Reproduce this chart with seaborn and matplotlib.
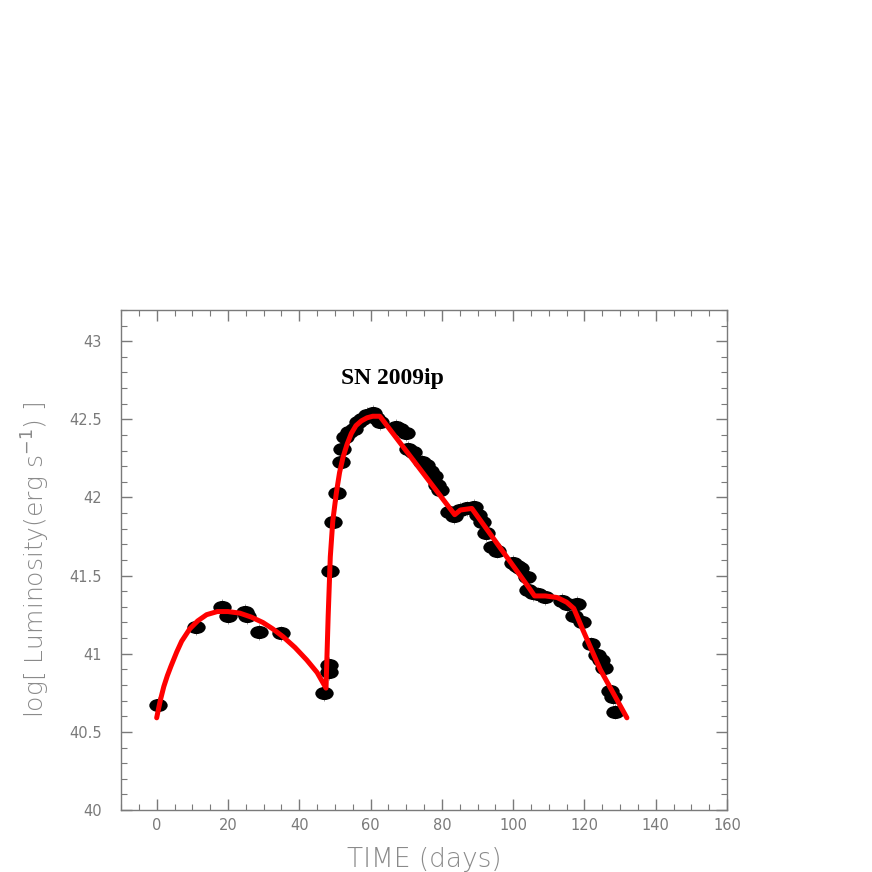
import numpy as np
import pandas as pd
import seaborn as sns
import matplotlib.pyplot as plt
from matplotlib.path import Path
from matplotlib.transforms import Affine2D
from matplotlib.ticker import MultipleLocator

# observed light curve points (days, log L)
days = [0.3, 11, 18.2, 20, 24.7, 25.3, 28.6, 35, 47, 48.3, 48.3, 48.6, 49.4, 50.5,
        51.6, 52, 52.8, 53.9, 55.3, 56.4, 57.5, 59, 60.6, 61.5, 62.6, 67, 68.2, 69.9,
        70.5, 71.9, 74.4, 75.5, 76.6, 77.8, 78.6, 79.4, 82, 83.4, 85, 87, 89, 90.1,
        91.2, 92.4, 94, 95.4, 99.9, 101, 101.9, 104, 104.2, 105.5, 107, 109, 113.7,
        115, 117.8, 117, 119.3, 121.8, 123.5, 124.6, 125.5, 127.2, 128, 128.6]
logL = [40.67, 41.17, 41.30, 41.24, 41.27, 41.24, 41.14, 41.13, 40.75, 40.93, 40.88,
        41.53, 41.84, 42.03, 42.23, 42.31, 42.39, 42.42, 42.44, 42.48, 42.50, 42.53,
        42.54, 42.51, 42.48, 42.45, 42.44, 42.41, 42.31, 42.29, 42.23, 42.21, 42.17,
        42.14, 42.08, 42.05, 41.91, 41.88, 41.92, 41.93, 41.94, 41.89, 41.84, 41.77,
        41.68, 41.66, 41.58, 41.56, 41.55, 41.49, 41.41, 41.39, 41.38, 41.36, 41.34,
        41.32, 41.32, 41.24, 41.20, 41.06, 40.99, 40.96, 40.91, 40.76, 40.72, 40.63]

# model curve
model_days = [0, 1, 2, 3, 4, 5.6, 7, 9.3, 11.5, 14, 17, 20, 23.3, 26.5, 29.8, 32.5,
              35.4, 38.8, 42.1, 45, 47.5, 48.1, 48.7, 49.4, 50.4, 51.3, 52.3, 53.4,
              54.6, 55.9, 57.4, 59, 60.6, 62.6, 83.6, 85.2, 88.4, 104.5, 106, 109,
              112.3, 115, 117, 119.6, 124.4, 131.9]
model_logL = [40.59, 40.70, 40.79, 40.86, 40.92, 41.01, 41.08, 41.16, 41.21, 41.25,
              41.27, 41.27, 41.26, 41.235, 41.20, 41.16, 41.11, 41.04, 40.96, 40.88,
              40.78, 41.24, 41.62, 41.85, 42.03, 42.16, 42.26, 42.34, 42.41, 42.46,
              42.49, 42.51, 42.52, 42.52, 41.89, 41.92, 41.93, 41.42, 41.37, 41.37,
              41.36, 41.33, 41.29, 41.15, 40.90, 40.59]

obs = pd.DataFrame({'days': days, 'logL': logL})
model = pd.DataFrame({'days': model_days, 'logL': model_logL})

sns.set_style('ticks')
plt.rcParams['font.family'] = ['DejaVu Sans']

fig = plt.figure(figsize=(8.72, 8.72), dpi=100)
ax = fig.add_axes([0.1388, 0.0711, 0.695, 0.5734])

# wide ellipse marker like the original
ellipse = Path.unit_circle().transformed(Affine2D().scale(1.4, 1.0))

ax.errorbar(obs['days'], obs['logL'], yerr=0.05, xerr=0.6, fmt='none',
            ecolor='#888888', elinewidth=0.6, zorder=2)
sns.scatterplot(data=obs, x='days', y='logL', marker=ellipse, s=175, color='black',
                edgecolor='black', linewidth=0, ax=ax, zorder=3)
sns.lineplot(data=model, x='days', y='logL', sort=False, estimator=None,
             color='#ff0000', linewidth=3.6, ax=ax, zorder=4)

ax.set_xlim(-10, 160)
ax.set_ylim(40, 43.2)
ax.xaxis.set_major_locator(MultipleLocator(20))
ax.xaxis.set_minor_locator(MultipleLocator(5))
ax.yaxis.set_major_locator(MultipleLocator(0.5))
ax.yaxis.set_minor_locator(MultipleLocator(0.1))
ax.set_yticks([40, 40.5, 41, 41.5, 42, 42.5, 43])
ax.set_yticklabels(['40', '40.5', '41', '41.5', '42', '42.5', '43'])

gray = '#7a7a7a'
for side in ax.spines.values():
    side.set_color(gray)
    side.set_linewidth(1.0)
ax.tick_params(which='both', direction='in', top=True, right=True, color=gray,
               labelcolor=gray, labelsize=10.5)
ax.tick_params(which='major', length=8, width=1)
ax.tick_params(which='minor', length=4, width=0.8)
ax.tick_params(axis='y', pad=14)
ax.tick_params(axis='x', pad=6)

ax.set_xlabel('TIME (days)', fontsize=19, color='#8a8a8a', fontweight='light',
              labelpad=10)
ax.set_ylabel('log[ Luminosity(erg s$^{-1}$) ]', fontsize=18, color='#8a8a8a',
              fontweight='light', labelpad=12)

ax.text(66, 42.76, 'SN 2009ip', family='Liberation Serif', fontsize=17,
        fontweight='bold', ha='center', va='center', color='black')

fig.savefig('out.png', dpi=100, facecolor='white')
